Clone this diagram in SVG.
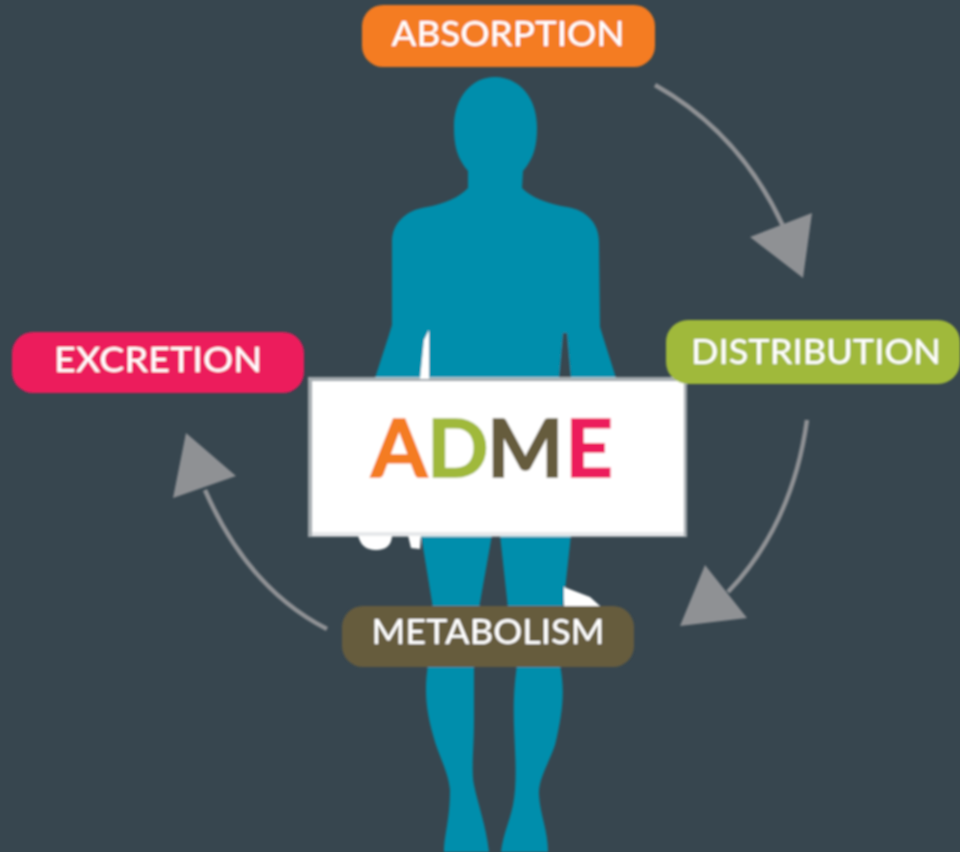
<svg xmlns="http://www.w3.org/2000/svg" width="960" height="852" viewBox="0 0 960 852">
<style>
.pill-label{font-family:Lato,"Liberation Sans",sans-serif;font-size:34px;font-weight:500;fill:#fff;text-anchor:middle}
.adme{font-family:Lato,"Liberation Sans",sans-serif;font-size:81px;font-weight:700;stroke-width:1.5}
.body{fill:#008eac}
.conn{fill:none;stroke:#8f9194;stroke-width:4.5}
.head{fill:#8f9194}
</style>
<defs><filter id="soft" x="-2%" y="-2%" width="104%" height="104%"><feGaussianBlur stdDeviation="0.8"/></filter></defs>
<rect width="960" height="852" fill="#37464f"/>
<g filter="url(#soft)">
<g id="figure">
<path class="body" d="M495 77C518 77 537 97 537 127C537 146 534 158 523 171L522 188C530 197 548 204 567 207C587 210 599 224 599 242L600 327L604 340L616 378L375 378L388 338L392 325L392 242C392 224 405 210 427 207C444 204 460 197 468 188L468 171C457 158 454 146 454 127C454 97 472 77 495 77Z"/>
<path fill="#37464f" d="M559 379L563 333L567 333L571 379Z"/>
<path fill="#fff" d="M420 379L424 340L429 330L429 379Z"/>
<path class="body" d="M421 535L492 535L479 608L433 608Z"/>
<path class="body" d="M500 535L571 535L563 608L508 608Z"/>
<path class="body" d="M428 665L474 665L474 720C474 750 471 770 474 785C478 805 486 825 489 852L444 852C444 835 450 820 450 790C448 770 438 755 433 735C426 710 424 690 428 665Z"/>
<path class="body" d="M517 665L560 665C565 690 563 712 555 745C548 765 538 780 539 795C540 815 548 830 548 852L501 852C503 835 510 820 513 805C516 790 516 770 515 750C514 725 512 700 517 665Z"/>
<path fill="#fff" d="M358 535L392 535C392 545 386 550 376 550C366 550 360 545 358 535Z"/>
<path fill="#fff" d="M408 535L421 535L420 549L411 548Z"/>
<path fill="#fff" d="M564 587L590 597L600 606L564 606Z"/>
</g>
<g id="connectors">
<path class="conn" d="M655 85C712 117 755 165 783 226"/>
<path class="head" d="M750 237L812 213L803 278Z"/>
<path class="conn" d="M807 420C797 492 770 548 728 592"/>
<path class="head" d="M705 565L747 618L680 626Z"/>
<path class="conn" d="M327 629C270 600 232 552 205 490"/>
<path class="head" d="M173 498L186 433L236 476Z"/>
</g>
<g id="adme-card">
<rect x="308" y="377" width="379" height="160" fill="#fff" fill-opacity="0.55"/>
<rect x="312" y="381" width="372" height="152" fill="#fff"/>
<rect x="312" y="532" width="372" height="4" fill="#e6e8ea"/>
<text class="adme" y="477" x="371" fill="#f47b20" stroke="#f47b20">A</text>
<text class="adme" y="477" x="427" fill="#a0b93a" stroke="#a0b93a">D</text>
<text class="adme" y="477" x="487" fill="#665c3e" stroke="#665c3e">M</text>
<text class="adme" y="477" x="565" fill="#ec1a5b" stroke="#ec1a5b" textLength="48" lengthAdjust="spacingAndGlyphs">E</text>
</g>
<g id="absorption">
<rect x="362" y="5" width="293" height="62" rx="21" fill="#f47b20"/>
<text class="pill-label" x="508" y="46" textLength="233" lengthAdjust="spacingAndGlyphs">ABSORPTION</text>
</g>
<g id="distribution">
<rect x="666" y="320" width="294" height="64" rx="22" fill="#a0b93a"/>
<text class="pill-label" x="816" y="364" textLength="250" lengthAdjust="spacingAndGlyphs">DISTRIBUTION</text>
</g>
<g id="excretion">
<rect x="12" y="332" width="292" height="61" rx="21" fill="#ec1a5b"/>
<text class="pill-label" x="158" y="372" textLength="208" lengthAdjust="spacingAndGlyphs">EXCRETION</text>
</g>
<g id="metabolism">
<rect x="342" y="606" width="292" height="61" rx="21" fill="#665c3e"/>
<text class="pill-label" x="488" y="644" textLength="233" lengthAdjust="spacingAndGlyphs">METABOLISM</text>
</g>
</g>
</svg>
